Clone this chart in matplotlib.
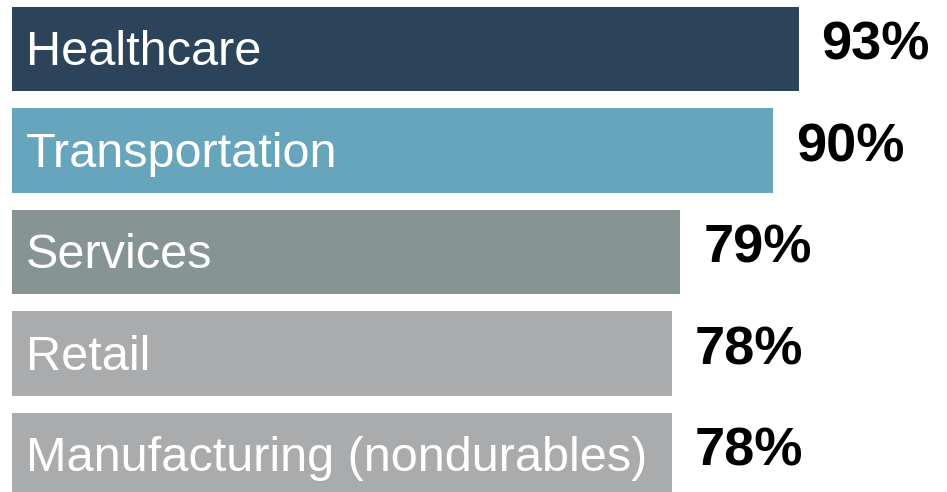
import matplotlib
matplotlib.use("Agg")
import matplotlib.pyplot as plt

categories = ["Healthcare", "Transportation", "Services", "Retail", "Manufacturing (nondurables)"]
values = [93, 90, 79, 78, 78]
bar_colors = ["#2c4459", "#66a5bb", "#879494", "#aaabad", "#aaabad"]

plt.rcParams["font.family"] = ["Liberation Sans", "DejaVu Sans"]

fig = plt.figure(figsize=(9.47, 4.92), dpi=100)
ax = fig.add_axes([0, 0, 1, 1])

positions = list(range(len(categories)))
ax.barh(positions, values, height=0.83, color=bar_colors, left=0)

for pos, cat, val in zip(positions, categories, values):
    # category name inside the bar, percentage just past its end
    ax.text(1.6, pos + 0.035, cat, color="white", fontsize=35, va="center", ha="left")
    ax.text(val + 2.7, pos - 0.03, f"{val}%", color="black", fontsize=39,
            fontweight="bold", va="center", ha="left")

ax.set_xlim(-12 / 8.46, (947 - 12) / 8.46)
ax.set_ylim(4.365, -0.483)
ax.axis("off")

fig.savefig("out.png", dpi=100, facecolor="white")
